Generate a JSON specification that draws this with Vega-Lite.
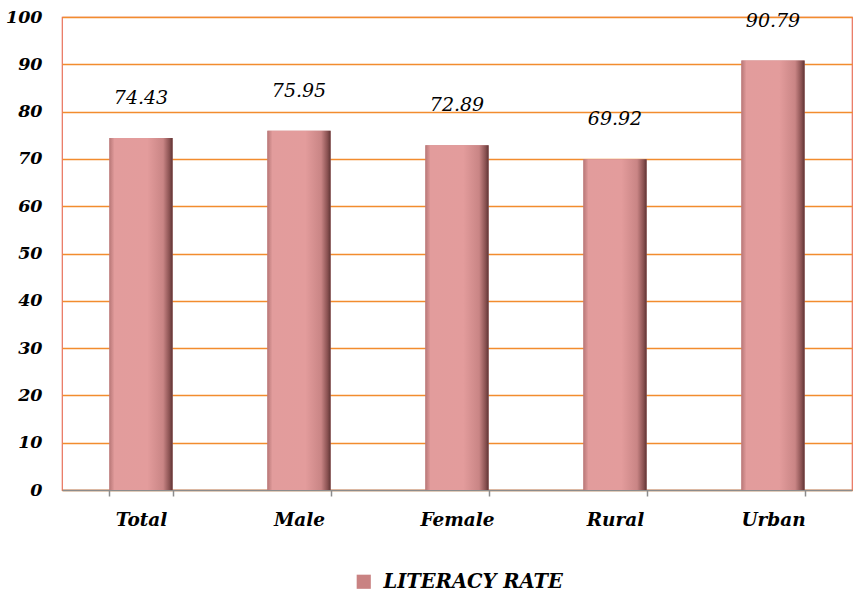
{
  "$schema": "https://vega.github.io/schema/vega-lite/v6.json",
  "width": 790,
  "height": 473,
  "autosize": {"type": "none"},
  "padding": {"left": 62, "top": 17, "right": 3, "bottom": 105},
  "background": "white",
  "config": {
    "view": {"stroke": "#E8705A", "strokeWidth": 1.2},
    "font": "DejaVu Serif"
  },
  "data": {
    "values": [
      {"category": "Total", "rate": 74.43, "series": "LITERACY RATE"},
      {"category": "Male", "rate": 75.95, "series": "LITERACY RATE"},
      {"category": "Female", "rate": 72.89, "series": "LITERACY RATE"},
      {"category": "Rural", "rate": 69.92, "series": "LITERACY RATE"},
      {"category": "Urban", "rate": 90.79, "series": "LITERACY RATE"}
    ]
  },
  "encoding": {
    "x": {
      "field": "category", "type": "nominal", "sort": null,
      "scale": {"paddingInner": 0.6, "paddingOuter": 0.3},
      "axis": {
        "title": null, "labelAngle": 0, "labelFont": "DejaVu Serif",
        "labelFontSize": 18.5, "labelFontStyle": "italic", "labelFontWeight": "bold",
        "labelColor": "black", "labelPadding": 14,
        "domainColor": "#8C8C8C", "domainWidth": 1.5,
        "tickColor": "#8C8C8C", "tickWidth": 1.5, "tickSize": 6, "tickBand": "extent",
        "grid": false
      }
    },
    "y": {
      "field": "rate", "type": "quantitative",
      "scale": {"domain": [0, 100], "nice": false},
      "axis": {
        "title": null, "values": [0,10,20,30,40,50,60,70,80,90,100],
        "labelFont": "DejaVu Serif", "labelFontSize": 17.5, "labelFontStyle": "italic",
        "labelFontWeight": "bold", "labelColor": "black", "labelPadding": 20,
        "domain": false, "ticks": false,
        "grid": true, "gridColor": "#F28C2E", "gridWidth": 1.5
      }
    }
  },
  "layer": [
    {
      "mark": {"type": "bar"},
      "encoding": {
        "color": {
          "field": "series", "type": "nominal",
          "scale": {"range": ["#C98282"]},
          "legend": {
            "title": null, "orient": "none", "legendX": 292, "legendY": 555,
            "symbolType": "square", "symbolSize": 200, "symbolStrokeWidth": 0,
            "labelFont": "DejaVu Serif", "labelFontSize": 19.5,
            "labelFontStyle": "italic", "labelFontWeight": "bold", "labelColor": "black",
            "labelOffset": 10, "labelLimit": 400
          }
        }
      }
    },
    {
      "mark": {
        "type": "bar",
        "color": {
          "gradient": "linear", "x1": 0, "x2": 1, "y1": 0, "y2": 0,
          "stops": [
            {"offset": 0, "color": "#B87777"},
            {"offset": 0.08, "color": "#E29C9C"},
            {"offset": 0.6, "color": "#E39C9C"},
            {"offset": 0.85, "color": "#C98585"},
            {"offset": 0.95, "color": "#8A5252"},
            {"offset": 1, "color": "#5E3434"}
          ]
        }
      }
    },
    {
      "mark": {
        "type": "text", "baseline": "bottom", "dy": -30,
        "font": "DejaVu Serif", "fontSize": 19, "fontStyle": "italic", "color": "black"
      },
      "encoding": {
        "text": {"field": "rate", "type": "quantitative", "format": ".2f"}
      }
    }
  ]
}
